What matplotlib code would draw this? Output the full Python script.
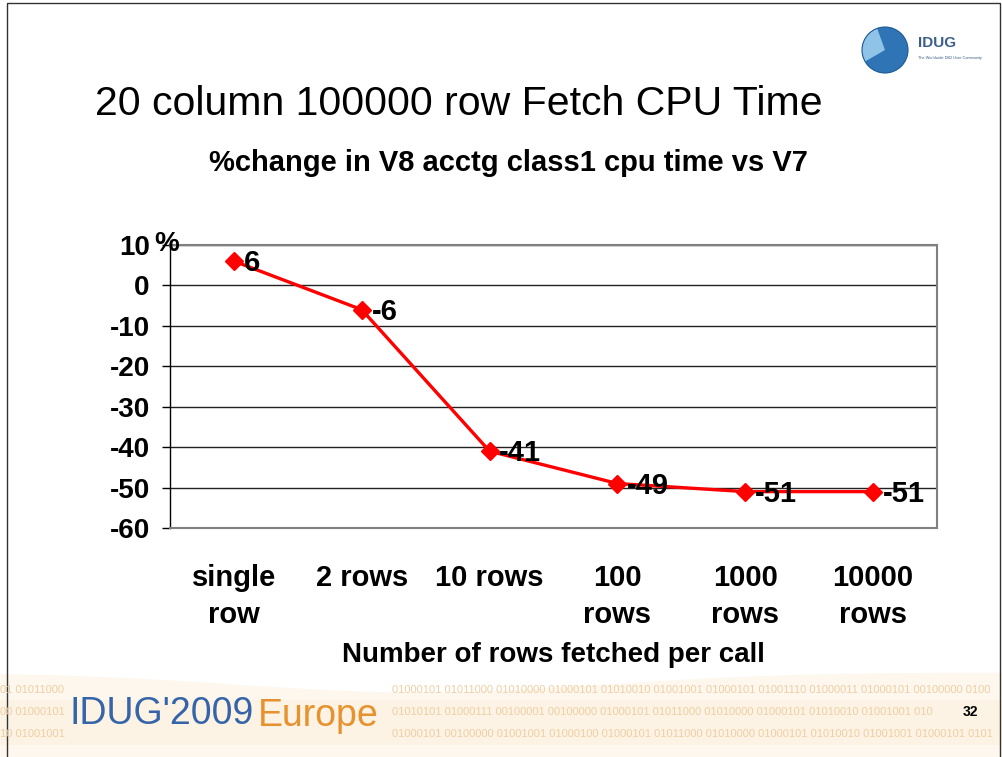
import matplotlib
matplotlib.use("Agg")
import matplotlib.pyplot as plt
from matplotlib.patches import Circle, Rectangle, Wedge
import numpy as np

# ---- data ----
categories = ["single\nrow", "2 rows", "10 rows", "100\nrows", "1000\nrows", "10000\nrows"]
pct_change = [6, -6, -41, -49, -51, -51]
y_ticks = [10, 0, -10, -20, -30, -40, -50, -60]
y_tick_labels = ["10", "0", "-10", "-20", "-30", "-40", "-50", "-60"]
title_text = "20 column 100000 row Fetch CPU Time"
subtitle_text = "%change in V8 acctg class1 cpu time vs V7"
xlabel_text = "Number of rows fetched per call"
banner_blue = "IDUG'2009"
banner_orange = "Europe"
binary_left = ["01 01011000", "00 01000101", "10 01001001"]
binary_right = [
    "01000101 01011000 01010000 01000101 01010010 01001001 01000101 01001110 01000011 01000101 00100000 0100",
    "01010101 01000111 00100001 00100000 01000101 01011000 01010000 01000101 01010010 01001001 010",
    "01000101 00100000 01001001 01000100 01000101 01011000 01010000 01000101 01010010 01001001 01000101 0101",
]
page_number = "32"

W, H = 1003, 757
fig = plt.figure(figsize=(W / 100, H / 100), dpi=100)
fig.patch.set_facecolor("white")

def fx(px):
    return px / W

def fy(py):
    return 1 - py / H

BOLD = dict(family=["Liberation Sans", "DejaVu Sans"], weight="bold")
REG = dict(family=["Liberation Sans", "DejaVu Sans"])

# ---- banner background ----
bg = fig.add_axes([0, 0, 1, 1], zorder=-5)
bg.set_xlim(0, W)
bg.set_ylim(H, 0)
bg.axis("off")
xs = np.linspace(0, W, 200)
top_curve = 672 + 20 * np.exp(-((xs - 420) / 260) ** 2)
bg.fill_between(xs, top_curve, 757, color="#fdf7ee", lw=0)
bg.fill_between(xs, 700, 745, color="#fcf1e0", lw=0, alpha=0.6)
# slide border
bg.add_patch(Rectangle((7, 3), 993, 760, fill=False, ec="#333333", lw=1.0))

# binary decoration
for i, s in enumerate(binary_left):
    bg.text(0, 690 + i * 22, s, fontsize=8, color="#efcfa3", va="center", ha="left", **REG)
for i, s in enumerate(binary_right):
    bg.text(392, 690 + i * 22, s, fontsize=8, color="#efcfa3", va="center", ha="left", **REG)

bg.text(70, 714, banner_blue, fontsize=27, color="#3565a8", va="center", ha="left",
        family=["Liberation Sans", "DejaVu Sans"])
bg.text(258, 716, banner_orange, fontsize=27, color="#e8922f", va="center", ha="left",
        family=["Liberation Sans", "DejaVu Sans"])
bg.text(970, 712, page_number, fontsize=10, color="black", va="center", ha="center", **BOLD)

# logo
bg.add_patch(Circle((885, 50), 23, color="#2f74b5", lw=0))
bg.add_patch(Wedge((885, 50), 23, 150, 250, color="#8fc3e8", lw=0))
bg.add_patch(Circle((885, 50), 23, fill=False, ec="#1d5a96", lw=0.8))
bg.text(918, 43, "IDUG", fontsize=11, color="#3b5f8a", va="center", ha="left", **BOLD)
bg.text(918, 58, "The Worldwide DB2 User Community", fontsize=2.8, color="#3b5f8a",
        va="center", ha="left", **REG)

# titles
fig.text(fx(95), fy(104), title_text, fontsize=29.5, ha="left", va="center", color="black", **REG)
fig.text(fx(508), fy(163), subtitle_text, fontsize=21, ha="center", va="center", color="black", **BOLD)

# ---- chart ----
left, right, top, bottom = 170, 937, 245, 528
ax = fig.add_axes([fx(left), fy(bottom), fx(right - left), (bottom - top) / H])
x = np.arange(len(categories))
ax.plot(x, pct_change, color="#ff0000", lw=2.4, marker="D", markersize=9.5,
        markeredgecolor="#ff0000", zorder=5, clip_on=False)
for xi, v in zip(x, pct_change):
    ax.annotate(str(v), (xi, v), xytext=(7, -1.5), textcoords="offset points",
                ha="left", va="center", fontsize=21, zorder=6, **BOLD)

ax.set_xlim(-0.5, len(categories) - 0.5)
ax.set_ylim(-60, 10)
ax.set_yticks(y_ticks)
ax.set_yticklabels(y_tick_labels)
ax.set_xticks(x)
ax.set_xticklabels(categories, linespacing=1.4)
for lab in ax.get_yticklabels():
    lab.set_fontsize(20)
for lab in ax.get_xticklabels():
    lab.set_fontsize(21)
for lab in ax.get_yticklabels() + ax.get_xticklabels():
    lab.set_fontweight("bold")
    lab.set_family(["Liberation Sans", "DejaVu Sans"])
ax.tick_params(axis="y", length=6, width=1, color="black", pad=8.5)
ax.tick_params(axis="x", length=0, pad=26)
ax.grid(axis="y", color="#222222", lw=1)
ax.set_axisbelow(True)
for side in ["top", "right", "bottom"]:
    ax.spines[side].set_color("#808080")
    ax.spines[side].set_linewidth(1.5)
ax.spines["left"].set_color("black")
ax.spines["left"].set_linewidth(1)

fig.text(fx(154), fy(244), "%", fontsize=20, ha="left", va="center", **BOLD)
fig.text(fx(553), fy(655), xlabel_text, fontsize=20, ha="center", va="center", **BOLD)

fig.savefig("out.png", dpi=100)
